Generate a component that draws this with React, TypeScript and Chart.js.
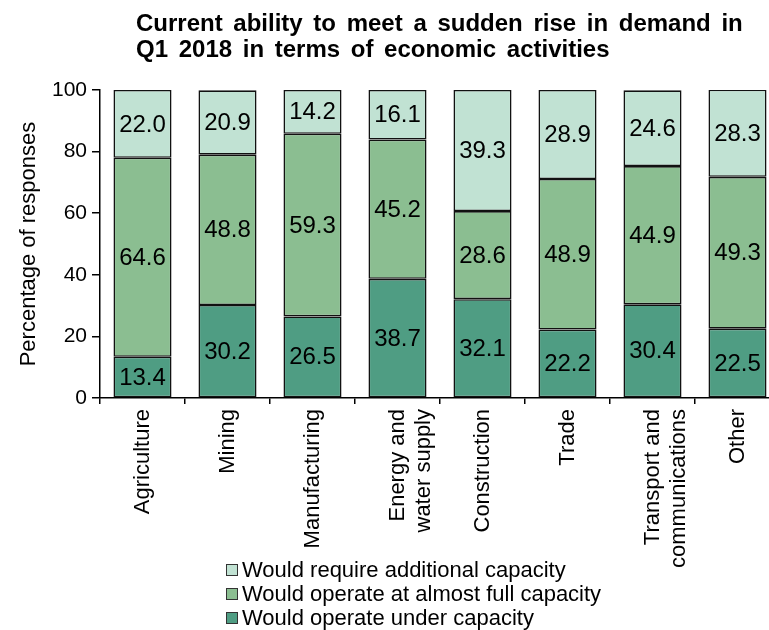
import React, { useEffect, useRef } from "react";
import { Chart, registerables } from "chart.js";

Chart.register(...registerables);

const FONT = "'Liberation Sans', Arial, sans-serif";

const categories: (string | string[])[] = [
  "Agriculture",
  "Mining",
  "Manufacturing",
  ["Energy and", "water supply"],
  "Construction",
  "Trade",
  ["Transport and", "communications"],
  "Other",
];

const underCapacity = [13.4, 30.2, 26.5, 38.7, 32.1, 22.2, 30.4, 22.5];
const almostFull = [64.6, 48.8, 59.3, 45.2, 28.6, 48.9, 44.9, 49.3];
const additional = [22.0, 20.9, 14.2, 16.1, 39.3, 28.9, 24.6, 28.3];

const seriesLabels = [
  "Would operate under capacity",
  "Would operate at almost full capacity",
  "Would require additional capacity",
];
const seriesColors = ["#4F9D83", "#8BBE91", "#C1E2D3"];

const titleLines = [
  "Current ability to meet a sudden rise in demand in",
  "Q1 2018 in terms of economic activities",
];
const yAxisTitle = "Percentage of responses";

const titlePlugin = {
  id: "customTitle",
  afterDraw(chart: any) {
    const ctx = chart.ctx;
    ctx.save();
    ctx.fillStyle = "#000";
    ctx.font = `bold 24px ${FONT}`;
    ctx.textAlign = "left";
    ctx.textBaseline = "alphabetic";
    try { (ctx as any).wordSpacing = "4px"; } catch (e) {}
    titleLines.forEach((t, i) => ctx.fillText(t, 136, 31 + i * 26));
    ctx.restore();
  },
};

const labelPlugin = {
  id: "segLabels",
  afterDatasetsDraw(chart: any) {
    const ctx = chart.ctx;
    ctx.save();
    ctx.fillStyle = "#000";
    ctx.font = `24px ${FONT}`;
    ctx.textAlign = "center";
    ctx.textBaseline = "middle";
    chart.data.datasets.forEach((ds: any, di: number) => {
      const meta = chart.getDatasetMeta(di);
      meta.data.forEach((el: any, i: number) => {
        const v = ds.data[i];
        const cy = (el.y + el.base) / 2;
        ctx.fillText(v.toFixed(1), el.x, cy + 1);
      });
    });
    ctx.restore();
  },
};

const legendPlugin = {
  id: "customLegend",
  afterDraw(chart: any) {
    const ctx = chart.ctx;
    ctx.save();
    ctx.font = `22px ${FONT}`;
    ctx.textAlign = "left";
    ctx.textBaseline = "middle";
    const dsets = [...chart.data.datasets].reverse();
    dsets.forEach((ds: any, i: number) => {
      const y = 564 + i * 24;
      ctx.fillStyle = ds.backgroundColor;
      ctx.fillRect(226.5, y + 0.5, 11, 11);
      ctx.strokeStyle = "#333";
      ctx.lineWidth = 1;
      ctx.strokeRect(226.5, y + 0.5, 11, 11);
      ctx.fillStyle = "#000";
      ctx.fillText(ds.label, 242, y + 7);
    });
    ctx.restore();
  },
};

export default function App() {
  const ref = useRef<HTMLCanvasElement | null>(null);

  useEffect(() => {
    if (!ref.current) return;
    const datasets = [underCapacity, almostFull, additional].map((d, i) => ({
      label: seriesLabels[i],
      data: d,
      backgroundColor: seriesColors[i],
      borderColor: "#111",
      borderWidth: 1.6,
      borderSkipped: false as const,
      barPercentage: 0.683,
      categoryPercentage: 1,
    }));
    const chart = new Chart(ref.current, {
      type: "bar",
      data: { labels: categories, datasets },
      plugins: [labelPlugin, titlePlugin, legendPlugin],
      options: {
        animation: false,
        responsive: true,
        maintainAspectRatio: false,
        layout: { padding: { top: 90, left: 0, right: 0, bottom: 0 } },
        plugins: {
          legend: { display: false },
          title: { display: false },
          tooltip: { enabled: false },
        },
        scales: {
          x: {
            stacked: true,
            afterFit: (s: any) => {
              s.height = 232;
            },
            grid: {
              offset: true,
              drawOnChartArea: false,
              color: "#000",
              tickColor: "#000",
              tickLength: 6,
              lineWidth: 1.5,
            },
            border: { color: "#000", width: 1.5 },
            ticks: {
              color: "#000",
              font: { family: FONT, size: 22 },
              maxRotation: 90,
              minRotation: 90,
              padding: 5,
              autoSkip: false,
            },
          },
          y: {
            stacked: true,
            min: 0,
            max: 100,
            afterFit: (s: any) => {
              s.width = 100;
            },
            ticks: {
              stepSize: 20,
              color: "#000",
              font: { family: FONT, size: 21 },
              padding: 5,
            },
            grid: {
              drawOnChartArea: false,
              color: "#000",
              tickColor: "#000",
              tickLength: 8,
              lineWidth: 1.5,
            },
            border: { color: "#000", width: 1.5 },
            title: {
              display: true,
              text: yAxisTitle,
              color: "#000",
              font: { family: FONT, size: 22 },
              padding: { top: 16, bottom: 0 },
            },
          },
        },
      },
    });
    return () => chart.destroy();
  }, []);

  return (
    <div style={{ position: "fixed", left: 0, top: 0, width: 769, height: 630, overflow: "hidden", background: "#fff" }}>
      <div style={{ position: "relative", width: 780, height: 630 }}>
        <canvas ref={ref} />
      </div>
    </div>
  );
}
